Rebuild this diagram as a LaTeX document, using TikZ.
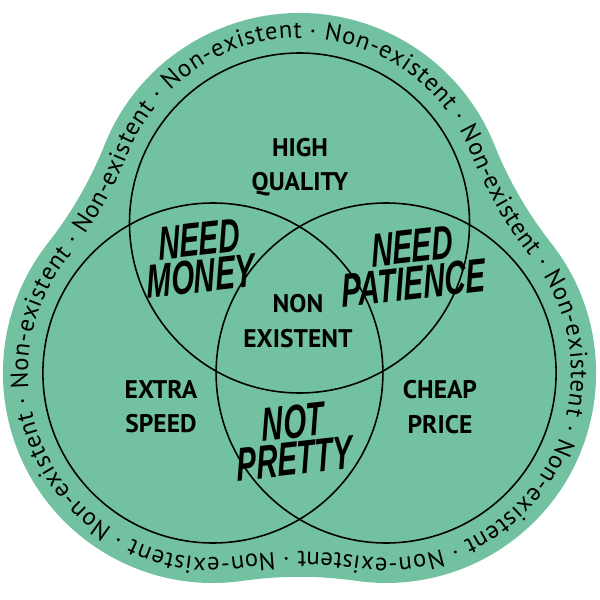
\documentclass[tikz,border=0pt]{standalone}
\usepackage{fontspec}
\setmainfont{PT Sans}
\newfontfamily\brushfont{Liberation Sans}
\usetikzlibrary{calc, decorations.text}
\definecolor{Mint}{HTML}{72C2A2}

\tikzset{
  venn/.style={draw=black, line width=0.9pt},
  caps/.style={font=\fontsize{14.5}{19.5}\selectfont\bfseries, align=center},
  brush/.style={font=\brushfont\fontsize{27}{21}\selectfont\bfseries\itshape,
                align=center, xscale=0.62}
}

\begin{document}
\begin{tikzpicture}
  \useasboundingbox (0,0) rectangle (12,12);

  % geometry of the sticker: lobes round the Venn centres, wide fillets between
  \pgfmathsetmacro\dd{2}
  \pgfmathsetmacro\Rb{4.2}
  \pgfmathsetmacro\fb{8}
  \pgfmathsetmacro\Rt{3.7}
  \pgfmathsetmacro\ft{\fb+\Rb-\Rt}
  \pgfmathsetmacro\DF{(\dd+sqrt(4*(\Rb+\fb)^2-3*\dd^2))/2}
  \pgfmathsetmacro\ph{atan2(\DF*sin(150)-\dd,\DF*cos(150))}
  \pgfmathsetmacro\bt{180-\ph}

  \coordinate (mid) at (5.99,5.54);
  \coordinate (top)   at ($(mid)+(90:\dd)$);
  \coordinate (left)  at ($(mid)+(210:\dd)$);
  \coordinate (right) at ($(mid)+(330:\dd)$);

  % sticker
  \coordinate (bs) at ($(top)+(\ph:\Rb)$);
  \fill[Mint] (bs)
    arc[start angle=\ph, end angle=\bt, radius=\Rb]
    arc[start angle=180+\bt, end angle=240-\bt, radius=\fb]
    arc[start angle=60-\bt, end angle=\bt-120, radius=\Rb]
    arc[start angle=60+\bt, end angle=120-\bt, radius=\fb]
    arc[start angle=-60-\bt, end angle=\bt-240, radius=\Rb]
    arc[start angle=\bt-60, end angle=-\bt, radius=\fb] -- cycle;

  % running text
  \coordinate (ts) at ($(top)+(87:\Rt)$);
  \path[decorate, decoration={text along path, text align=fit to path,
      text={|\fontsize{14}{16}\selectfont|· Non-existent · Non-existent · Non-existent · Non-existent · Non-existent · Non-existent · Non-existent · Non-existent · Non-existent · Non-existent{ }}}]
    (ts)
    arc[start angle=87, end angle=\bt, radius=\Rt]
    arc[start angle=180+\bt, end angle=240-\bt, radius=\ft]
    arc[start angle=60-\bt, end angle=\bt-120, radius=\Rt]
    arc[start angle=60+\bt, end angle=120-\bt, radius=\ft]
    arc[start angle=-60-\bt, end angle=\bt-240, radius=\Rt]
    arc[start angle=\bt-60, end angle=-\bt, radius=\ft]
    arc[start angle=\ph, end angle=87, radius=\Rt];

  % Venn circles
  \draw[venn] (top) circle[radius=3.4];
  \draw[venn] (left) circle[radius=3.4];
  \draw[venn] (right) circle[radius=3.4];

  \node[caps] (quality) at (6.0,8.66)  {HIGH\\QUALITY};
  \node[caps] (none)    at (5.96,5.58) {NON\\EXISTENT};
  \node[caps] (speed)   at (3.22,3.86) {EXTRA\\SPEED};
  \node[caps] (price)   at (8.8,3.86)  {CHEAP\\PRICE};

  \node[brush, rotate=4] (money)    at (4.0,6.84) {NEED\\MONEY};
  \node[brush, rotate=4] (patience) at (8.26,6.7) {NEED\\PATIENCE};
  \node[brush, rotate=4] (pretty)   at (5.88,3.2) {NOT\\PRETTY};
\end{tikzpicture}
\end{document}
